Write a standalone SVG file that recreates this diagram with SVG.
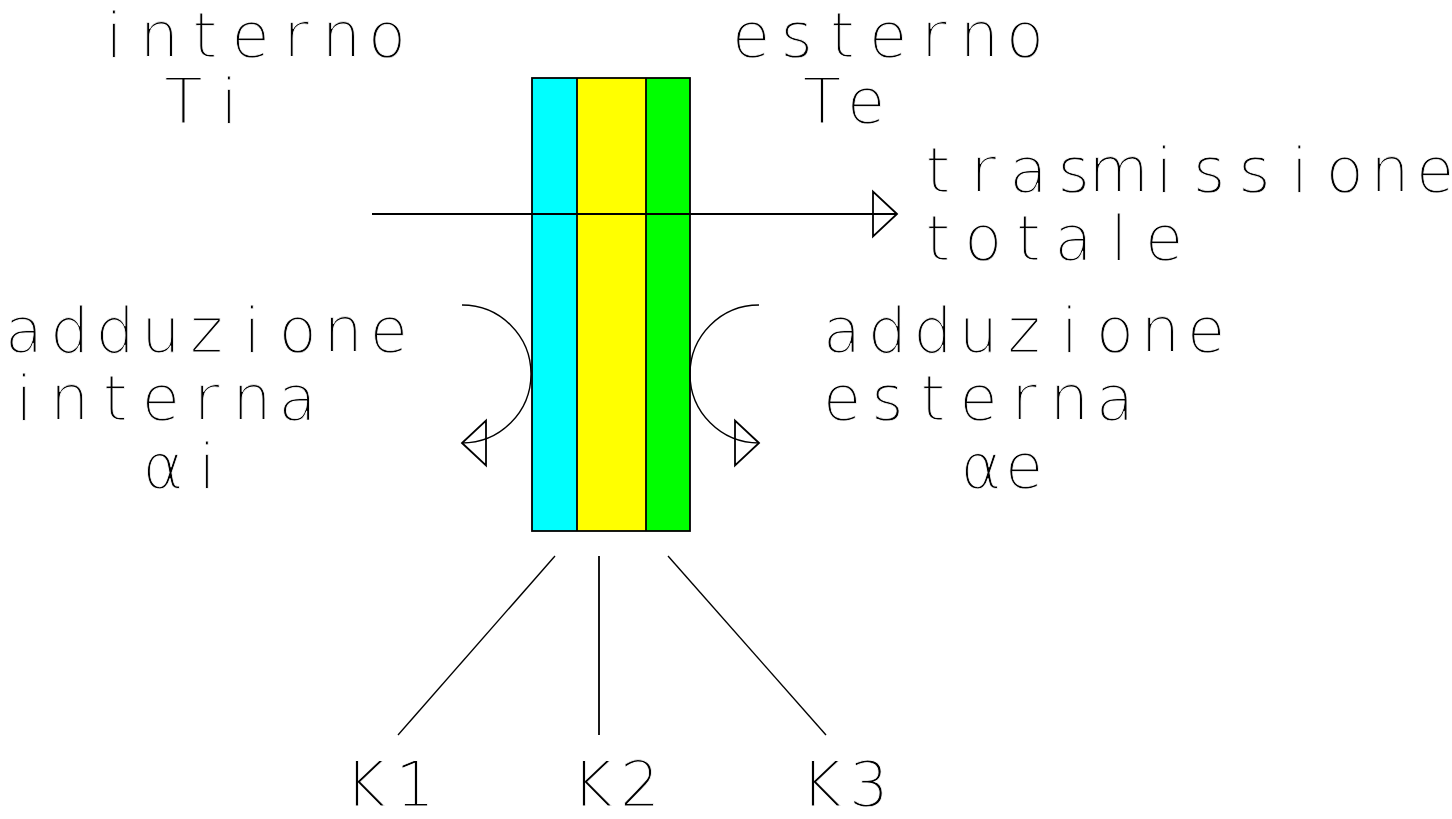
<svg xmlns="http://www.w3.org/2000/svg" width="1452" height="819" viewBox="0 0 1452 819">
<style>
.t{font-family:"DejaVu Sans","Liberation Sans",sans-serif;font-weight:200;font-size:62px;fill:#000;stroke:#fff;stroke-width:0.8px;text-anchor:middle}
.ln{fill:none;stroke:#000;stroke-width:1.8}
.lt{fill:none;stroke:#000;stroke-width:1.4}
</style>
<defs>
<marker id="tri" markerUnits="userSpaceOnUse" viewBox="-26 -25 52 50" refX="0" refY="0" markerWidth="52" markerHeight="50" orient="auto" overflow="visible">
<path d="M0,0 L-24,-22.5 L-24,22.5 Z" fill="none" stroke="#000" stroke-width="1.8"/>
</marker>
</defs>
<rect width="1452" height="819" fill="#fff"/>
<g id="wall">
<rect x="532" y="78" width="45" height="453" fill="#00ffff"/>
<rect x="577" y="78" width="69" height="453" fill="#ffff00"/>
<rect x="646" y="78" width="44" height="453" fill="#00ff00"/>
<rect x="532" y="78" width="158" height="453" class="ln"/>
<line x1="577" y1="78" x2="577" y2="531" class="ln"/>
<line x1="646" y1="78" x2="646" y2="531" class="ln"/>
</g>
<g id="connectors">
<path d="M372,214 L897,214" class="ln" marker-end="url(#tri)"/>
<path d="M462,305 A69,69 0 0 1 462,443" class="lt" marker-end="url(#tri)"/>
<path d="M759,305 A69,69 0 0 0 759,443" class="lt" marker-end="url(#tri)"/>
<line x1="555" y1="556" x2="398" y2="735" class="lt"/>
<line x1="599" y1="556" x2="599" y2="735" class="ln"/>
<line x1="668" y1="556" x2="826" y2="735" class="lt"/>
</g>
<g id="label-interno">
<text class="t" x="114 159.5 205 250.5 296 341.5 387" y="57">interno</text>
<text class="t" x="183.5 229" y="123">Ti</text>
</g>
<g id="label-esterno">
<text class="t" x="751 796.7 842.4 888.1 933.8 979.5 1025" y="57">esterno</text>
<text class="t" x="822 866" y="123">Te</text>
</g>
<g id="label-trasmissione">
<text class="t" x="938 983.2 1028.4 1073.6 1118.8 1164 1209.2 1254.4 1299.6 1344.8 1390 1435" y="192">trasmissione</text>
<text class="t" x="938 983.2 1028.4 1073.6 1118.8 1164" y="260">totale</text>
</g>
<g id="label-adduzione-interna">
<text class="t" x="24 69.6 115.2 160.8 206.4 252 297.6 343.2 388.8" y="352">adduzione</text>
<text class="t" x="24 69.6 115.2 160.8 206.4 252 297.6" y="420">interna</text>
<text class="t" x="163 207" y="488">αi</text>
</g>
<g id="label-adduzione-esterna">
<text class="t" x="842 887.5 933 978.5 1024 1069.5 1115 1160.5 1206" y="352">adduzione</text>
<text class="t" x="842 887.5 933 978.5 1024 1069.5 1115" y="420">esterna</text>
<text class="t" x="981 1024" y="488">αe</text>
</g>
<g id="label-k1"><text class="t" x="365 415" y="806">K1</text></g>
<g id="label-k2"><text class="t" x="592 640" y="806">K2</text></g>
<g id="label-k3"><text class="t" x="821 869" y="806">K3</text></g>
</svg>
